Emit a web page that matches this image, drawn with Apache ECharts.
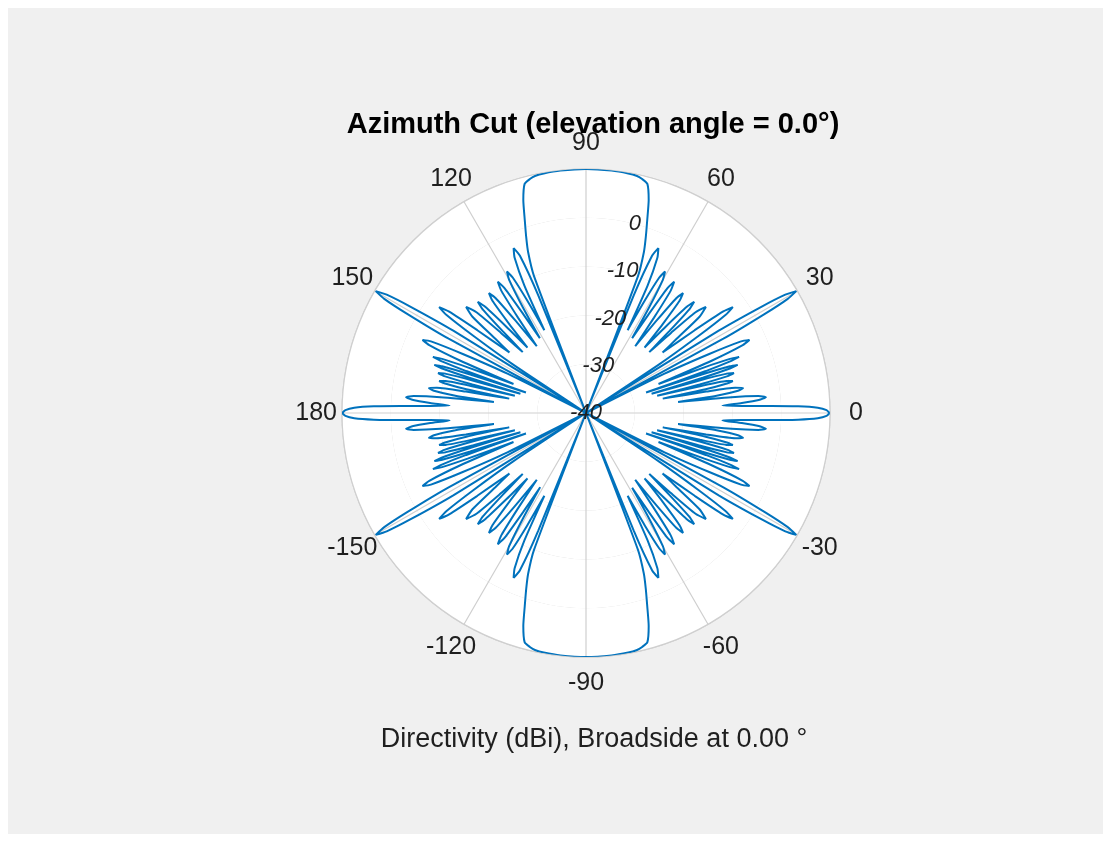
<!DOCTYPE html>
<html>
<head>
<meta charset="utf-8">
<title>Azimuth Cut</title>
<script src="https://cdn.jsdelivr.net/npm/echarts@6/dist/echarts.min.js"></script>
<style>
  html, body { margin: 0; padding: 0; background: #ffffff; }
  #frame { position: absolute; left: 8px; top: 8px; width: 1095px; height: 826px; background: #f0f0f0; }
  #chart { position: absolute; left: 0; top: 0; width: 1111px; height: 842px; }
</style>
</head>
<body>
<div id="frame"></div>
<div id="chart"></div>
<script>
// Directivity pattern, first quadrant (0..90 deg). The pattern is symmetric
// about both the 0-180 and the 90/-90 axes, so the other quadrants mirror it.
const patternAngle = [
  0, 0.7, 1.3, 1.8, 2.2, 2.6, 3.1,
  3.7, 4.3, 5.0, 5.6, 6.2, 6.8,
  7.5, 8.3, 9.0, 9.6, 10.1, 10.6,
  11.2, 11.8, 12.3, 12.8, 13.2, 13.6,
  14.1, 14.6, 15.1, 15.6, 16.0, 16.3,
  16.8, 17.2, 17.6, 18.0, 18.4, 18.8,
  19.3, 19.7, 20.1, 20.6, 21.1, 21.8,
  22.6, 23.4, 24.1, 24.8, 25.6, 26.6,
  27.6, 28.4, 29.0, 29.5, 30.1, 30.7, 31.2, 31.8, 32.6,
  33.6, 34.4, 35.1, 35.8, 36.5, 37.3, 38.3,
  39.3, 40.3, 41.5, 42.6, 43.3, 43.9,
  44.5, 45.1, 45.8, 46.5, 47.3, 48.2,
  49.2, 50.2, 51.0, 51.8, 52.6, 53.6,
  54.5, 55.3, 56.1, 56.9, 57.6, 58.3,
  59.1, 60.0, 60.8, 61.6, 62.4, 63.3,
  64.2, 65.3, 66.3, 67.2, 67.9, 68.6,
  69.2, 70.2, 71.2, 72.4, 73.6, 75.0, 76.5, 78.0, 80.0, 84.0, 90.0
];
const patternDb = [
  9.9, 9.3, 7.5, 3.5, -2, -8, -12,
  -8, -4.5, -3, -4.5, -10, -21,
  -13, -8.5, -7.4, -9, -15, -24,
  -15, -10.5, -9.2, -10.5, -16, -25,
  -16, -10, -8.6, -10, -16, -26,
  -15, -9, -7.4, -9, -15, -27,
  -14, -8.5, -6.6, -8.5, -14, -24,
  -12, -5, -3.3, -5, -12, -22,
  -40, -8, 2, 7.5, 9.8, 7.5, 2, -8, -40,
  -22, -12, -5, -2.9, -5, -12, -20,
  -16, -9.5, -7.2, -9.5, -16, -22,
  -16, -10, -8.2, -10, -16, -22,
  -16, -10, -8.4, -10, -16, -23,
  -16, -9.5, -7.6, -9.5, -16, -22,
  -15, -8.5, -6.8, -8.5, -14, -21,
  -11, -5, -3.1, -5, -14, -40,
  -10, -5, -2, 1.5, 5.5, 8.6, 9.3, 9.7, 9.85, 9.95, 10
];

// Axis ticks and labels
const angleTicks = [0, 30, 60, 90, 120, 150, 180, 210, 240, 270, 300, 330];
const angleTickLabels = ['0', '30', '60', '90', '120', '150', '180', '-150', '-120', '-90', '-60', '-30'];
const radiusTicks = [-40, -30, -20, -10, 0];
const radiusTickLabels = ['-40', '-30', '-20', '-10', '0'];

const titleText = 'Azimuth Cut (elevation angle = 0.0\u00b0)';
const captionText = 'Directivity (dBi), Broadside at 0.00 \u00b0';

// layout constants
const R_MIN = -40, R_MAX = 10;
const ANGLE_LABEL_DB = 15.3;   // radial position of the angle tick labels
const RADIUS_LABEL_ANGLE = 75.5;
const FONT = '"Liberation Sans", Arial, Helvetica, sans-serif';
const TEXT_COLOR = '#1f1f1f';
const GRID_COLOR = '#cfcfcf';

// closed curve over the full circle, built from the quadrant by symmetry
const q = patternAngle.map((a, i) => [a, patternDb[i]]);
const curve = [];
q.forEach(([a, d]) => curve.push([d, a]));
q.slice(0, -1).reverse().forEach(([a, d]) => curve.push([d, 180 - a]));
q.slice(1).forEach(([a, d]) => curve.push([d, 180 + a]));
q.slice(0, -1).reverse().forEach(([a, d]) => curve.push([d, 360 - a]));

const tickLabelStyle = (size, style) => ({
  show: true, position: 'inside',
  fontFamily: FONT, fontSize: size, fontStyle: style, color: TEXT_COLOR,
  opacity: 1, textBorderWidth: 0, textShadowBlur: 0
});

const chart = echarts.init(document.getElementById('chart'), null, { renderer: 'canvas' });

chart.setOption({
  animation: false,
  title: [
    {
      text: titleText,
      left: 588, top: 105, textAlign: 'center',
      textStyle: { fontFamily: FONT, fontSize: 29, fontWeight: 'bold', color: '#000000' }
    },
    {
      text: captionText,
      left: 589, top: 721, textAlign: 'center',
      textStyle: { fontFamily: FONT, fontSize: 27, fontWeight: 'normal', color: TEXT_COLOR }
    }
  ],
  polar: { center: [586, 413], radius: 244 },
  angleAxis: {
    type: 'value', min: 0, max: 360, interval: 30,
    startAngle: 0, clockwise: false,
    axisLine: { show: true, lineStyle: { color: GRID_COLOR, width: 1.2 } },
    axisTick: { show: false },
    axisLabel: { show: false },
    splitLine: { show: true, lineStyle: { color: GRID_COLOR, width: 1.2 } }
  },
  radiusAxis: {
    type: 'value', min: R_MIN, max: R_MAX, interval: 10,
    axisLine: { show: false },
    axisTick: { show: false },
    axisLabel: { show: false },
    splitLine: { show: true, lineStyle: { color: GRID_COLOR, width: 1.2 } },
    splitArea: { show: true, areaStyle: { color: ['#ffffff', '#ffffff'] } }
  },
  series: [
    {
      name: 'Directivity',
      type: 'line',
      coordinateSystem: 'polar',
      data: curve,
      symbol: 'none',
      smooth: 0.2,
      clip: false,
      lineStyle: { color: '#0072BD', width: 2 },
      z: 3
    },
    {
      // angle tick labels, centred on a ring just outside the plot
      type: 'scatter',
      coordinateSystem: 'polar',
      data: angleTicks.map((a, i) => ({ value: [ANGLE_LABEL_DB, a], label: { formatter: angleTickLabels[i] } })),
      symbolSize: 1,
      itemStyle: { color: '#ffffff', opacity: 1 },
      clip: false,
      silent: true,
      label: tickLabelStyle(25, 'normal'),
      z: 4
    },
    {
      // radial tick labels along one spoke
      type: 'scatter',
      coordinateSystem: 'polar',
      data: radiusTicks.map((r, i) => ({ value: [r, RADIUS_LABEL_ANGLE], label: { formatter: radiusTickLabels[i] } })),
      symbolSize: 0,
      itemStyle: { color: '#ffffff', opacity: 1 },
      clip: false,
      silent: true,
      label: tickLabelStyle(22, 'italic'),
      z: 5
    }
  ]
});
</script>
</body>
</html>
